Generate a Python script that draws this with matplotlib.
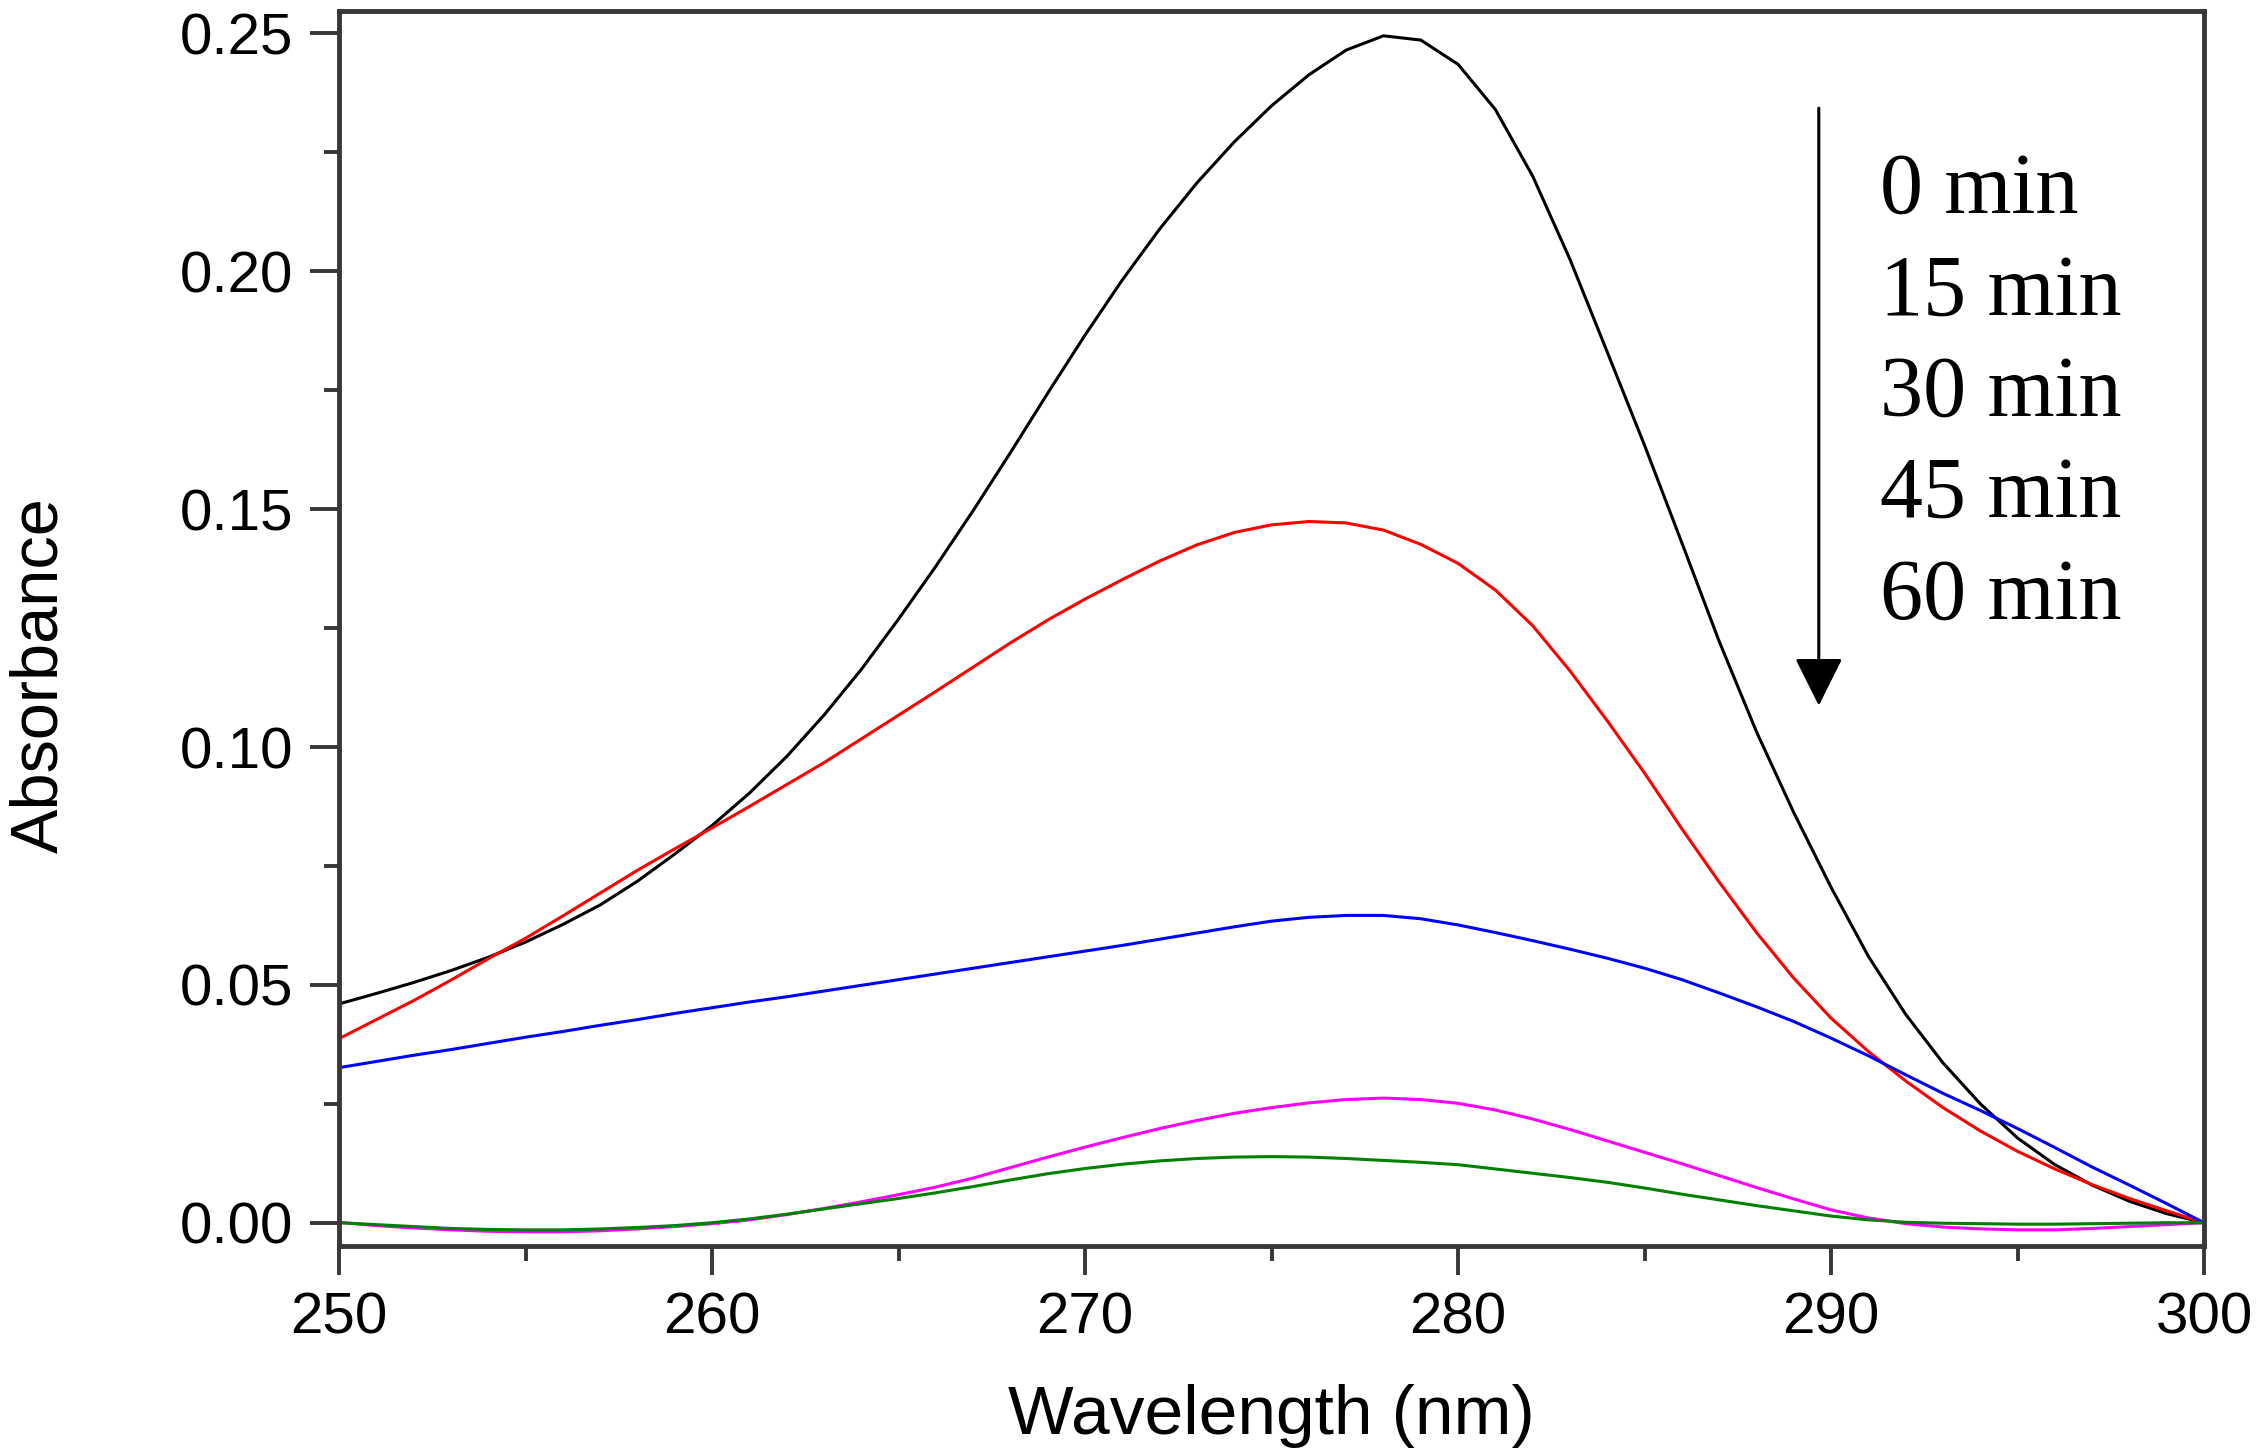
import numpy as np
import matplotlib
matplotlib.use("Agg")
import matplotlib.pyplot as plt
from matplotlib.ticker import MultipleLocator, FormatStrFormatter

wavelength = list(range(250, 301))

abs_0min = [0.0460, 0.0482, 0.0505, 0.0530, 0.0558, 0.0590, 0.0627, 0.0668, 0.0718, 0.0775,
            0.0835, 0.0903, 0.0980, 0.1067, 0.1163, 0.1269, 0.1380, 0.1497, 0.1619, 0.1744,
            0.1866, 0.1982, 0.2089, 0.2186, 0.2272, 0.2348, 0.2413, 0.2465, 0.2495, 0.2486,
            0.2435, 0.2340, 0.2200, 0.2025, 0.1830, 0.1634, 0.1429, 0.1222, 0.1032, 0.0862,
            0.0705, 0.0560, 0.0438, 0.0336, 0.0250, 0.0178, 0.0122, 0.0079, 0.0045, 0.0019,
            0.0000]
abs_15min = [0.0387, 0.0427, 0.0467, 0.0510, 0.0555, 0.0598, 0.0645, 0.0693, 0.0741, 0.0786,
             0.0830, 0.0875, 0.0921, 0.0967, 0.1017, 0.1067, 0.1117, 0.1168, 0.1219, 0.1267,
             0.1311, 0.1352, 0.1391, 0.1425, 0.1451, 0.1467, 0.1474, 0.1471, 0.1456, 0.1426,
             0.1386, 0.1330, 0.1255, 0.1160, 0.1055, 0.0945, 0.0828, 0.0716, 0.0610, 0.0514,
             0.0430, 0.0360, 0.0298, 0.0242, 0.0193, 0.0150, 0.0113, 0.0080, 0.0051, 0.0025,
             0.0000]
abs_30min = [0.0326, 0.0339, 0.0352, 0.0364, 0.0377, 0.0390, 0.0402, 0.0415, 0.0427, 0.0440,
             0.0452, 0.0464, 0.0475, 0.0487, 0.0499, 0.0511, 0.0523, 0.0535, 0.0547, 0.0559,
             0.0571, 0.0583, 0.0596, 0.0609, 0.0622, 0.0634, 0.0642, 0.0646, 0.0646, 0.0639,
             0.0626, 0.0610, 0.0593, 0.0575, 0.0556, 0.0535, 0.0511, 0.0483, 0.0454, 0.0423,
             0.0388, 0.0351, 0.0311, 0.0272, 0.0236, 0.0198, 0.0158, 0.0117, 0.0079, 0.0040,
             0.0000]
abs_45min = [0.0001, -0.0006, -0.0011, -0.0015, -0.0018, -0.0019, -0.0019, -0.0017, -0.0013, -0.0008,
             -0.0002, 0.0006, 0.0017, 0.0030, 0.0044, 0.0059, 0.0075, 0.0094, 0.0116, 0.0138,
             0.0159, 0.0179, 0.0198, 0.0215, 0.0230, 0.0242, 0.0252, 0.0259, 0.0262, 0.0259,
             0.0251, 0.0237, 0.0218, 0.0196, 0.0172, 0.0148, 0.0124, 0.0099, 0.0074, 0.0050,
             0.0027, 0.0010, -0.0002, -0.0009, -0.0013, -0.0015, -0.0015, -0.0012, -0.0008, -0.0004,
             0.0000]
abs_60min = [0.0000, -0.0004, -0.0008, -0.0012, -0.0014, -0.0015, -0.0015, -0.0013, -0.0010, -0.0006,
             0.0000, 0.0008, 0.0018, 0.0029, 0.0040, 0.0051, 0.0063, 0.0076, 0.0090, 0.0103,
             0.0114, 0.0123, 0.0130, 0.0135, 0.0138, 0.0139, 0.0138, 0.0135, 0.0131, 0.0127,
             0.0122, 0.0113, 0.0104, 0.0095, 0.0085, 0.0073, 0.0060, 0.0048, 0.0036, 0.0025,
             0.0014, 0.0006, 0.0001, -0.0001, -0.0002, -0.0003, -0.0003, -0.0002, -0.0001, 0.0000,
             0.0000]

series = [abs_0min, abs_15min, abs_30min, abs_45min, abs_60min]
colors = ["#000000", "#ff0000", "#0000ff", "#ff00ff", "#008000"]
time_labels = ["0 min", "15 min", "30 min", "45 min", "60 min"]
xticks = [250, 260, 270, 280, 290, 300]
yticks = [0.00, 0.05, 0.10, 0.15, 0.20, 0.25]

plt.rcParams['font.family'] = ['Liberation Sans', 'DejaVu Sans']

fig = plt.figure(figsize=(22.59, 14.56), dpi=100)
ax = fig.add_axes([0.1501, 0.1442, 0.9757 - 0.1501, 0.9924 - 0.1442])

for vals, c in zip(series, colors):
    ax.plot(wavelength, vals, color=c, lw=2.2, solid_joinstyle='round',
            solid_capstyle='round')

ax.set_xlim(250, 300)
ax.set_ylim(-0.0049, 0.2547)
ax.set_xticks(xticks)
ax.set_yticks(yticks)
ax.yaxis.set_major_formatter(FormatStrFormatter('%.2f'))
ax.xaxis.set_minor_locator(MultipleLocator(5))
ax.yaxis.set_minor_locator(MultipleLocator(0.025))

spine_col = '#383838'
for s in ax.spines.values():
    s.set_linewidth(3.5)
    s.set_color(spine_col)

ax.tick_params(axis='both', which='major', direction='out', length=21, width=2.8,
               color=spine_col, labelsize=42, pad=12, top=False, right=False)
ax.tick_params(axis='both', which='minor', direction='out', length=11, width=2.8,
               color=spine_col, top=False, right=False)

ax.set_xlabel('Wavelength (nm)', fontsize=50, va='baseline')
ax.xaxis.set_label_coords(0.5, -0.1522)
ax.set_ylabel('Absorbance', fontsize=48, va='center')
ax.yaxis.set_label_coords(-0.160, 0.4625)

ax.annotate('', xy=(289.67, 0.1087), xytext=(289.67, 0.2343),
            arrowprops=dict(arrowstyle='-|>,head_length=0.4,head_width=0.2',
                            lw=2.2, color='black', mutation_scale=75,
                            shrinkA=0, shrinkB=0))

baselines = [0.2124, 0.1909, 0.1696, 0.1484, 0.1269]
for lab, yb in zip(time_labels, baselines):
    ax.text(291.3, yb, lab, fontsize=62, family=['Liberation Serif', 'DejaVu Serif'],
            va='baseline', ha='left', color='black')

fig.savefig('out.png', dpi=100)
